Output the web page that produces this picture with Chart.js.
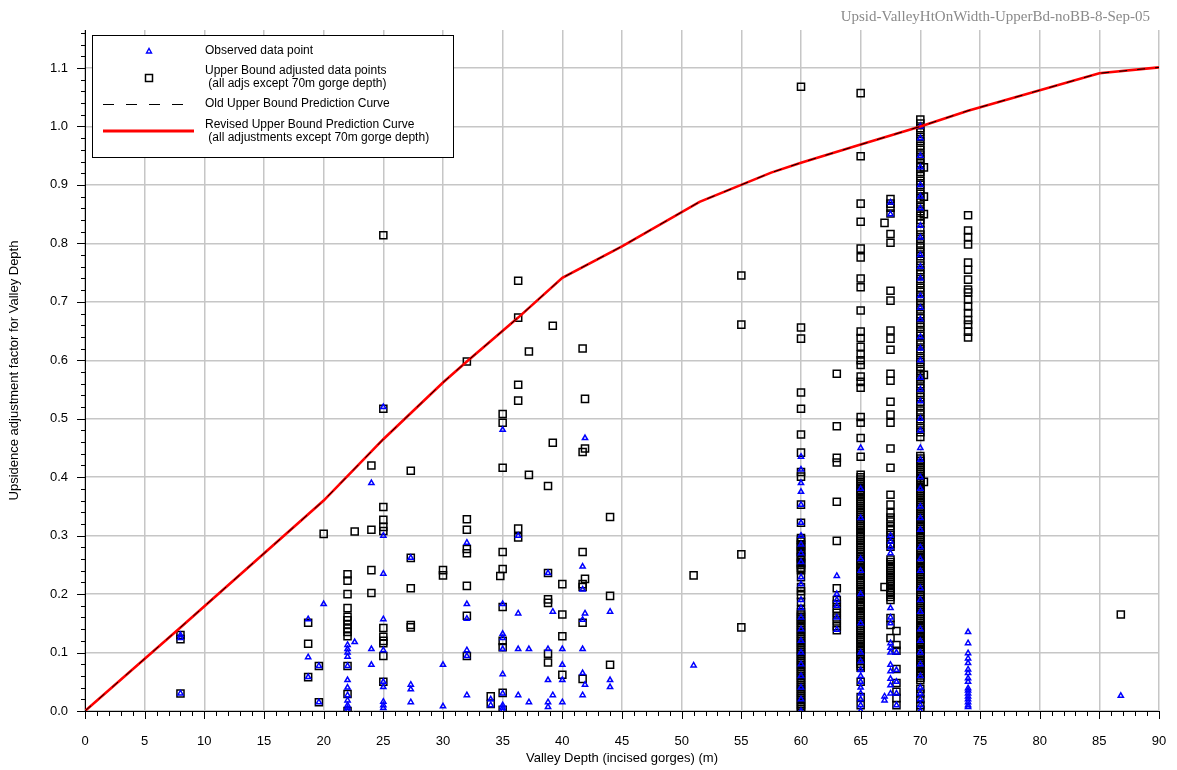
<!DOCTYPE html>
<html>
<head>
<meta charset="utf-8">
<script src="https://cdn.jsdelivr.net/npm/chart.js@4.4.1/dist/chart.umd.min.js"></script>
<style>
  html, body { margin: 0; padding: 0; background: #fff; }
  canvas { display: block; }
</style>
</head>
<body>
<canvas id="grafica" width="1177" height="770"></canvas>
<script>
const xTicks = [0, 5, 10, 15, 20, 25, 30, 35, 40, 45, 50, 55, 60, 65, 70, 75, 80, 85, 90];
const yTicks = [0, 0.1, 0.2, 0.3, 0.4, 0.5, 0.6, 0.7, 0.8, 0.9, 1.0, 1.1];

// prediction curves (old and revised coincide)
const curveDepth = [0, 8, 20, 25, 30, 32, 36.3, 40, 45, 51.5, 57.5, 60, 65, 70, 74, 85, 90];
const revisedFactor = [0, 0.143, 0.36, 0.465, 0.562, 0.598, 0.673, 0.741, 0.795, 0.871, 0.921, 0.938, 0.969, 1.0, 1.027, 1.091, 1.101];
const oldFactor = [0, 0.143, 0.36, 0.465, 0.562, 0.598, 0.673, 0.741, 0.795, 0.871, 0.921, 0.938, 0.969, 1.0, 1.027, 1.091, 1.101];

// observed points: [depth, factors]
const observed = [
  [8, [0.13, 0.125, 0.03]],
  [18.7, [0.157, 0.092, 0.058]],
  [19.6, [0.077, 0.015]],
  [20, [0.183]],
  [22, [0.113, 0.106, 0.1, 0.093, 0.077, 0.053, 0.04, 0.027, 0.018, 0.01, 0.005, 0]],
  [22.6, [0.118]],
  [24, [0.39, 0.106, 0.079]],
  [25, [0.52, 0.3, 0.235, 0.157, 0.104, 0.05, 0.041, 0.016, 0.01, 0.005]],
  [27.3, [0.262, 0.045, 0.037, 0.015]],
  [30, [0.079, 0.008]],
  [32, [0.288, 0.183, 0.158, 0.104, 0.094, 0.027]],
  [34, [0.02, 0.01]],
  [35, [0.481, 0.183, 0.132, 0.125, 0.106, 0.063, 0.03, 0.01, 0.005, 0]],
  [36.3, [0.3, 0.167, 0.106, 0.027]],
  [37.2, [0.106, 0.015]],
  [38.8, [0.236, 0.106, 0.053, 0.015, 0.007]],
  [39.2, [0.17, 0.027]],
  [40, [0.106, 0.079, 0.053, 0.015]],
  [41.7, [0.247, 0.208, 0.156, 0.106, 0.065, 0.027]],
  [41.9, [0.467, 0.167, 0.045]],
  [44, [0.17, 0.053, 0.041]],
  [51, [0.078]],
  [60, [0.435, 0.413, 0.39, 0.375, 0.353, 0.322, 0.3, 0.285, 0.27, 0.255, 0.229, 0.217, 0.19, 0.176, 0.16, 0.14, 0.12, 0.1, 0.08, 0.06, 0.04, 0.02, 0]],
  [63, [0.231, 0.2, 0.19, 0.18, 0.16, 0.139]],
  [65, [0.45, 0.38, 0.33, 0.26, 0.24, 0.2, 0.15, 0.1, 0.085, 0.07, 0.06, 0.05, 0.04, 0.03, 0.02, 0.01, 0]],
  [67, [0.025, 0.018]],
  [67.5, [0.87, 0.85, 0.3, 0.29, 0.28, 0.27, 0.176, 0.16, 0.15, 0.116, 0.108, 0.1, 0.079, 0.068, 0.055, 0.044, 0.03]],
  [68, [0.1, 0.07, 0.05, 0.03, 0.01]],
  [70, [1.0, 0.98, 0.95, 0.93, 0.9, 0.88, 0.86, 0.83, 0.81, 0.78, 0.76, 0.74, 0.71, 0.69, 0.67, 0.64, 0.62, 0.6, 0.57, 0.55, 0.53, 0.5, 0.48, 0.45, 0.43, 0.4, 0.38, 0.35, 0.33, 0.31, 0.28, 0.26, 0.24, 0.21, 0.19, 0.17, 0.14, 0.12, 0.1, 0.08, 0.06, 0.04, 0.03, 0.02, 0.01, 0]],
  [74, [0.135, 0.116, 0.099, 0.09, 0.082, 0.071, 0.065, 0.056, 0.05, 0.039, 0.035, 0.03, 0.025, 0.02, 0.015, 0.01, 0.007]],
  [86.8, [0.026]]
];

// upper bound adjusted points: [depth, factors]
const adjusted = [
  [8, [0.13, 0.123, 0.03]],
  [18.7, [0.151, 0.115, 0.058]],
  [19.6, [0.077, 0.015]],
  [20, [0.303]],
  [22, [0.234, 0.223, 0.2, 0.176, 0.161, 0.155, 0.148, 0.141, 0.135, 0.128, 0.077, 0.029, 0]],
  [22.6, [0.307]],
  [24, [0.42, 0.31, 0.241, 0.202]],
  [25, [0.814, 0.517, 0.349, 0.327, 0.315, 0.308, 0.142, 0.127, 0.12, 0.116, 0.094, 0.05]],
  [27.3, [0.411, 0.262, 0.21, 0.147, 0.143]],
  [30, [0.241, 0.232]],
  [32, [0.598, 0.328, 0.31, 0.277, 0.27, 0.214, 0.163, 0.094]],
  [34, [0.025, 0.012]],
  [34.8, [0.231]],
  [35, [0.508, 0.493, 0.416, 0.272, 0.243, 0.178, 0.12, 0.109, 0.031, 0.002]],
  [36.3, [0.736, 0.673, 0.558, 0.531, 0.312, 0.297]],
  [37.2, [0.615, 0.404]],
  [38.8, [0.385, 0.236, 0.191, 0.185, 0.098, 0.083]],
  [39.2, [0.659, 0.459]],
  [40, [0.217, 0.165, 0.128, 0.062]],
  [41.7, [0.62, 0.443, 0.272, 0.217, 0.212, 0.151, 0.055]],
  [41.9, [0.534, 0.449, 0.226]],
  [44, [0.332, 0.197, 0.079]],
  [51, [0.232]],
  [55, [0.745, 0.661, 0.268, 0.143]],
  [60, [1.068, 0.656, 0.637, 0.545, 0.517, 0.473, 0.442, 0.409, 0.401, 0.353, 0.322,
        0.296, 0.293, 0.29, 0.285, 0.283, 0.28, 0.275, 0.273, 0.27, 0.265, 0.263, 0.26, 0.255, 0.253, 0.25, 0.245, 0.243,
        0.241, 0.229, 0.212, 0.205, 0.198, 0.187, 0.173,
        0.169, 0.165, 0.161, 0.158, 0.154, 0.15, 0.146, 0.143, 0.139, 0.135, 0.131, 0.128, 0.124, 0.12, 0.116, 0.113,
        0.109, 0.105, 0.101, 0.098, 0.094, 0.09, 0.086, 0.083, 0.079, 0.075, 0.071, 0.068, 0.064, 0.06, 0.056, 0.053,
        0.049, 0.045, 0.041, 0.038, 0.034, 0.03, 0.026, 0.023, 0.019, 0.015, 0.011, 0.008, 0.004, 0]],
  [63, [0.577, 0.487, 0.433, 0.425, 0.358, 0.291, 0.21, 0.19, 0.183, 0.175, 0.168, 0.16, 0.153, 0.145, 0.138]],
  [65, [1.057, 0.949, 0.868, 0.837, 0.791, 0.776, 0.74, 0.725, 0.685, 0.649, 0.638, 0.623, 0.61, 0.6, 0.592, 0.572,
        0.563, 0.553, 0.503, 0.493, 0.467, 0.435,
        0.404, 0.4, 0.396, 0.392, 0.389, 0.385, 0.381, 0.377, 0.374, 0.37, 0.366, 0.362, 0.359, 0.355, 0.351, 0.347,
        0.344, 0.34, 0.336, 0.332, 0.329, 0.325, 0.321, 0.317, 0.314, 0.31, 0.306, 0.302, 0.299, 0.295, 0.291, 0.287,
        0.284, 0.28, 0.276, 0.272, 0.269, 0.265, 0.261, 0.257, 0.254, 0.25, 0.246, 0.242, 0.239, 0.235, 0.231, 0.227,
        0.224, 0.22, 0.216, 0.212, 0.209, 0.205, 0.201, 0.197, 0.194, 0.19, 0.186, 0.182, 0.179, 0.175, 0.171, 0.167,
        0.164, 0.16, 0.156, 0.152, 0.149, 0.145, 0.141, 0.137, 0.134, 0.13, 0.126, 0.122, 0.119, 0.115, 0.111, 0.107,
        0.104, 0.1, 0.096, 0.092, 0.089, 0.085, 0.081, 0.077, 0.074, 0.05, 0.024, 0.01]],
  [67, [0.835, 0.212]],
  [67.5, [0.876, 0.868, 0.861, 0.851, 0.816, 0.801, 0.719, 0.702, 0.651, 0.637, 0.618, 0.577, 0.565, 0.529, 0.507,
          0.493, 0.449, 0.416, 0.37, 0.353, 0.339, 0.331, 0.324, 0.316, 0.309, 0.301, 0.294, 0.286, 0.281,
          0.259, 0.255, 0.251, 0.248, 0.244, 0.24, 0.236, 0.233, 0.229, 0.225, 0.221, 0.218, 0.214, 0.21, 0.206,
          0.203, 0.199, 0.195, 0.19, 0.159, 0.147, 0.125]],
  [68, [0.137, 0.113, 0.103, 0.072, 0.048, 0.033, 0.022, 0.01]],
  [70, [1.012, 1.005, 0.997, 0.99, 0.982, 0.975, 0.967, 0.96, 0.952, 0.945, 0.937, 0.93, 0.922, 0.915, 0.907, 0.9,
        0.892, 0.885, 0.877, 0.87, 0.862, 0.855, 0.847, 0.84, 0.834, 0.823, 0.815, 0.808, 0.8, 0.793, 0.785, 0.778,
        0.77, 0.762, 0.754, 0.747, 0.739, 0.732, 0.724, 0.717, 0.709, 0.702, 0.694, 0.687, 0.679, 0.672, 0.664, 0.657,
        0.649, 0.642, 0.634, 0.627, 0.619, 0.612, 0.604, 0.597, 0.589, 0.582, 0.574, 0.567, 0.559, 0.552, 0.544, 0.537,
        0.529, 0.522, 0.514, 0.507, 0.499, 0.492, 0.484, 0.477, 0.469,
        0.436, 0.432, 0.428, 0.424, 0.421, 0.417, 0.413, 0.409, 0.406, 0.402, 0.398, 0.394, 0.391, 0.387, 0.383, 0.379,
        0.376, 0.372, 0.368, 0.364, 0.361, 0.357, 0.353, 0.349, 0.346, 0.342, 0.338, 0.334, 0.331, 0.327, 0.323, 0.319,
        0.316, 0.312, 0.308, 0.304, 0.301, 0.297, 0.293, 0.289, 0.286, 0.282, 0.278, 0.274, 0.271, 0.267, 0.263, 0.259,
        0.256, 0.252, 0.248, 0.244, 0.241, 0.237, 0.233, 0.229, 0.226, 0.222, 0.218, 0.214, 0.211, 0.207, 0.203, 0.199,
        0.196, 0.192, 0.188, 0.184, 0.181, 0.177, 0.173, 0.169, 0.166, 0.162, 0.158, 0.154, 0.151, 0.147, 0.143, 0.139,
        0.136, 0.132, 0.128, 0.124, 0.121, 0.117, 0.113, 0.109, 0.106, 0.102, 0.098, 0.094, 0.091, 0.087, 0.083, 0.079,
        0.076, 0.072, 0.068, 0.064, 0.061, 0.057, 0.053, 0.038, 0.03, 0.02, 0.01, 0.002]],
  [70.3, [0.93, 0.88, 0.85, 0.575, 0.392]],
  [74, [0.848, 0.822, 0.811, 0.798, 0.767, 0.755, 0.738, 0.721, 0.716, 0.704, 0.692, 0.681, 0.669, 0.661, 0.649, 0.639]],
  [86.8, [0.165]]
];

const aPuntos = grupos => grupos.flatMap(([d, vals]) => vals.map(v => ({ x: d, y: v })));
const aCurva = (xs, ys) => xs.map((x, i) => ({ x: x, y: ys[i] }));

const fuente = '"Liberation Sans", Arial, sans-serif';

const extras = {
  id: 'extras',
  afterDraw(chart) {
    const ctx = chart.ctx;
    const sx = chart.scales.x;
    const sy = chart.scales.y;
    const area = chart.chartArea;
    ctx.save();
    // minor and major tick marks
    ctx.strokeStyle = '#000';
    ctx.lineWidth = 1;
    ctx.beginPath();
    for (let v = 0; v <= 90; v++) {
      const px = Math.round(sx.getPixelForValue(v)) + 0.5;
      const len = v % 5 === 0 ? 8 : 5;
      ctx.moveTo(px, area.bottom);
      ctx.lineTo(px, area.bottom + len);
    }
    for (let i = 0; i <= 58; i++) {
      const py = Math.round(sy.getPixelForValue(i * 0.02)) + 0.5;
      const len = i % 5 === 0 ? 8 : 4;
      ctx.moveTo(area.left - len, py);
      ctx.lineTo(area.left, py);
    }
    ctx.stroke();

    // file tag at top right
    ctx.fillStyle = '#8a8a8a';
    ctx.font = '15px "Liberation Serif", "Times New Roman", serif';
    ctx.textAlign = 'right';
    ctx.textBaseline = 'middle';
    ctx.fillText('Upsid-ValleyHtOnWidth-UpperBd-noBB-8-Sep-05', 1150, 17);

    // legend
    ctx.fillStyle = '#fff';
    ctx.fillRect(92.5, 35.5, 361, 122);
    ctx.strokeStyle = '#000';
    ctx.lineWidth = 1;
    ctx.strokeRect(92.5, 35.5, 361, 122);

    ctx.lineWidth = 1.4;
    ctx.strokeStyle = '#0000ff';
    ctx.beginPath();
    ctx.moveTo(146.5, 53);
    ctx.lineTo(149, 48.5);
    ctx.lineTo(151.5, 53);
    ctx.closePath();
    ctx.stroke();

    ctx.strokeStyle = '#000';
    ctx.lineWidth = 1.5;
    ctx.strokeRect(145.5, 74.5, 7, 7);

    ctx.lineWidth = 1;
    ctx.setLineDash([11, 12]);
    ctx.beginPath();
    ctx.moveTo(103, 104.5);
    ctx.lineTo(186, 104.5);
    ctx.stroke();
    ctx.setLineDash([]);

    ctx.strokeStyle = '#ff0000';
    ctx.lineWidth = 3;
    ctx.beginPath();
    ctx.moveTo(103, 131);
    ctx.lineTo(194, 131);
    ctx.stroke();

    ctx.fillStyle = '#000';
    ctx.font = '12px ' + fuente;
    ctx.textAlign = 'left';
    ctx.textBaseline = 'middle';
    ctx.fillText('Observed data point', 205, 51);
    ctx.fillText('Upper Bound adjusted data points', 205, 71);
    ctx.fillText(' (all adjs except 70m gorge depth)', 205, 84);
    ctx.fillText('Old Upper Bound Prediction Curve', 205, 104);
    ctx.fillText('Revised Upper Bound Prediction Curve', 205, 125);
    ctx.fillText(' (all adjustments except 70m gorge depth)', 205, 138);
    ctx.restore();
  }
};

new Chart(document.getElementById('grafica'), {
  type: 'scatter',
  data: {
    datasets: [
      {
        label: 'Old Upper Bound Prediction Curve',
        data: aCurva(curveDepth, oldFactor),
        showLine: true,
        borderColor: '#000',
        borderWidth: 1,
        borderDash: [8, 10],
        pointRadius: 0,
        order: 0
      },
      {
        label: 'Revised Upper Bound Prediction Curve',
        data: aCurva(curveDepth, revisedFactor),
        showLine: true,
        borderColor: '#ff0000',
        borderWidth: 2.6,
        pointRadius: 0,
        order: 1
      },
      {
        label: 'Observed data point',
        data: aPuntos(observed),
        pointStyle: 'triangle',
        pointRadius: 3,
        borderColor: '#0000ff',
        borderWidth: 1.5,
        backgroundColor: 'rgba(0,0,0,0)',
        order: 2
      },
      {
        label: 'Upper Bound adjusted data points',
        data: aPuntos(adjusted),
        pointStyle: 'rect',
        pointRadius: 5,
        borderColor: '#000',
        borderWidth: 1.5,
        backgroundColor: 'rgba(0,0,0,0)',
        order: 3
      }
    ]
  },
  options: {
    responsive: false,
    animation: false,
    devicePixelRatio: 1,
    layout: { padding: { top: 30, right: 18, left: 0, bottom: 0 } },
    plugins: { legend: { display: false }, tooltip: { enabled: false } },
    scales: {
      x: {
        type: 'linear',
        min: 0,
        max: 90,
        afterBuildTicks: s => { s.ticks = xTicks.map(v => ({ value: v })); },
        afterFit: s => { s.height = 59; s.paddingLeft = 0; s.paddingRight = 0; },
        ticks: { font: { family: fuente, size: 13 }, color: '#000', padding: 23, maxRotation: 0 },
        grid: { color: '#c6c6c6', lineWidth: 1.5, drawTicks: false },
        border: { color: '#000', width: 1 },
        title: {
          display: true,
          text: 'Valley Depth (incised gorges) (m)',
          font: { family: fuente, size: 13 },
          color: '#000',
          padding: { top: 0, bottom: 4 }
        }
      },
      y: {
        min: 0,
        max: 1.165,
        afterBuildTicks: s => { s.ticks = yTicks.map(v => ({ value: v })); },
        afterFit: s => { s.width = 85; s.paddingTop = 0; s.paddingBottom = 0; },
        ticks: {
          font: { family: fuente, size: 13 },
          color: '#000',
          padding: 17,
          callback: v => v.toFixed(1)
        },
        grid: { color: '#c6c6c6', lineWidth: 1.5, drawTicks: false },
        border: { color: '#000', width: 1 },
        title: {
          display: true,
          text: 'Upsidence adjustment factor for Valley Depth',
          font: { family: fuente, size: 13 },
          color: '#000',
          padding: { top: 7, bottom: 0 }
        }
      }
    }
  },
  plugins: [extras]
});
</script>
</body>
</html>
